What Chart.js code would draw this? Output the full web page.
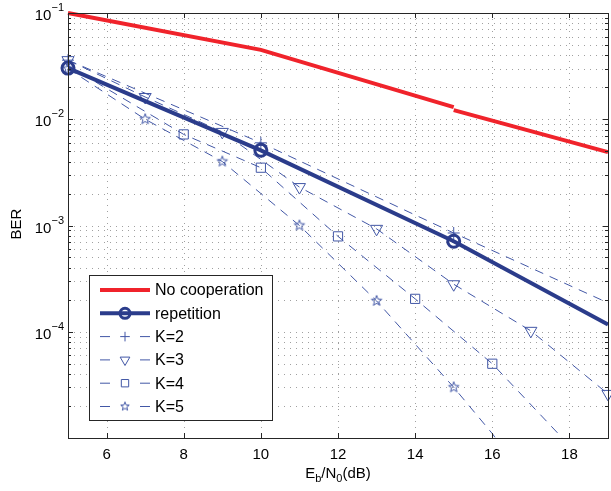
<!DOCTYPE html>
<html>
<head>
<meta charset="utf-8">
<script src="https://cdn.jsdelivr.net/npm/chart.js@4"></script>
<style>
  html, body { margin: 0; padding: 0; background: #fff; }
  #wrap { width: 611px; height: 491px; }
</style>
</head>
<body>
<div id="wrap"><canvas id="berChart"></canvas></div>
<script>
// data
const seriesNames = ["No cooperation", "repetition", "K=2", "K=3", "K=4", "K=5"];
const noCoopX = [5, 10, 15, 15, 15, 19];
const noCoopY = [0.1, 0.045, 0.013, null, 0.0122, 0.0049];
const repX = [5, 10, 15, 19];
const repY = [0.0303, 0.0051, 0.00071, 0.000117];
const repMarks = [1, 1, 1, 0];
const k2X = [5, 10, 15, 19];
const k2Y = [0.036, 0.006, 0.00085, 0.000187];
const k2Marks = [1, 1, 1, 0];
const k3X = [5, 7, 9, 11, 13, 15, 17, 19];
const k3Y = [0.036, 0.0162, 0.0076, 0.0023, 0.00093, 0.00028, 0.000102, 0.000026];
const k3Marks = [1, 1, 1, 1, 1, 1, 1, 1];
const k4X = [5, 8, 10, 12, 14, 16, 18];
const k4Y = [0.032, 0.0072, 0.0035, 0.00079, 0.000204, 0.00005, 0.0000085];
const k4Marks = [0, 1, 1, 1, 1, 1, 0];
const k5X = [5, 7, 9, 11, 13, 15, 16, 17];
const k5Y = [0.03, 0.01, 0.004, 0.001, 0.000195, 0.00003, 0.000011, 0.0000035];
const k5Marks = [1, 1, 1, 1, 1, 1, 0, 0];
const xTicks = [6, 8, 10, 12, 14, 16, 18];
const yDecades = [-5, -4, -3, -2, -1];
const yLabelExps = [-1, -2, -3, -4];

const RED = "#f0232b";
const BLUE = "#2b3c8b";
const DASH = "#4257a6";
const FONT = "'Liberation Sans', Arial, sans-serif";

function pts(xs, ys) {
    return xs.map((x, i) => ({ x: x, y: ys[i] }));
}

// pentagram marker like matlab 'p'
function starCanvas(r, color) {
    let c = document.createElement("canvas");
    let s = Math.ceil(r * 2 + 3);
    c.width = s;
    c.height = s;
    let g = c.getContext("2d");
    g.strokeStyle = color;
    g.lineWidth = 1;
    g.beginPath();
    for (let i = 0; i < 10; i++) {
        let a = -Math.PI / 2 + i * Math.PI / 5;
        let rr = i % 2 ? r * 0.42 : r;
        g.lineTo(s / 2 + rr * Math.cos(a), s / 2 + rr * Math.sin(a));
    }
    g.closePath();
    g.stroke();
    return c;
}
const starImg = starCanvas(5.5, DASH);
const starSmall = starCanvas(4.5, DASH);

function dashedSet(label, xs, ys, marks, style, radius, rotation) {
    return {
        label: label,
        data: pts(xs, ys),
        borderColor: DASH,
        backgroundColor: "rgba(0,0,0,0)",
        borderWidth: 1,
        borderDash: [9, 7],
        pointStyle: style,
        pointRotation: rotation || 0,
        pointRadius: marks.map(m => m ? radius : 0),
        pointBorderWidth: 1,
        clip: { left: 12, right: 12, top: 12, bottom: 0 }
    };
}

const datasets = [
    {
        label: seriesNames[0],
        data: pts(noCoopX, noCoopY),
        borderColor: RED,
        borderWidth: 4,
        pointRadius: 0,
        spanGaps: false,
        clip: { left: 12, right: 12, top: 12, bottom: 0 }
    },
    {
        label: seriesNames[1],
        data: pts(repX, repY),
        borderColor: BLUE,
        backgroundColor: "rgba(0,0,0,0)",
        borderWidth: 4,
        pointStyle: "circle",
        pointRadius: repMarks.map(m => m ? 6 : 0),
        pointBorderWidth: 3,
        clip: { left: 12, right: 12, top: 12, bottom: 0 }
    },
    dashedSet(seriesNames[2], k2X, k2Y, k2Marks, "cross", 6),
    dashedSet(seriesNames[3], k3X, k3Y, k3Marks, "triangle", 7, 180),
    dashedSet(seriesNames[4], k4X, k4Y, k4Marks, "rect", 6.5),
    dashedSet(seriesNames[5], k5X, k5Y, k5Marks, starImg, 6)
];

function crisp(v) {
    return Math.round(v) + 0.5;
}

// text with sub/superscripts
function drawParts(ctx, parts, x, y, align) {
    let w = 0;
    parts.forEach(p => {
        ctx.font = (p.small ? "11px " : "15px ") + FONT;
        p.w = ctx.measureText(p.t).width;
        w += p.w;
    });
    let cx = align === "right" ? x - w : align === "center" ? x - w / 2 : x;
    ctx.textAlign = "left";
    ctx.textBaseline = "alphabetic";
    parts.forEach(p => {
        ctx.font = (p.small ? "11px " : "15px ") + FONT;
        ctx.fillText(p.t, cx, y + (p.dy || 0));
        cx += p.w;
    });
}

const matlabAxes = {
    id: "matlabAxes",
    beforeDatasetsDraw(chart) {
        let ctx = chart.ctx;
        let a = chart.chartArea;
        let xs = chart.scales.x;
        let ys = chart.scales.y;
        ctx.save();
        ctx.strokeStyle = "#a0a0a0";
        ctx.lineWidth = 1;
        ctx.setLineDash([1, 5]);
        xTicks.forEach(v => {
            let px = crisp(xs.getPixelForValue(v));
            ctx.beginPath();
            ctx.moveTo(px, a.top);
            ctx.lineTo(px, a.bottom);
            ctx.stroke();
        });
        yDecades.forEach(d => {
            for (let m = 1; m <= 9; m++) {
                let v = m * Math.pow(10, d);
                if (v > 0.1 * 1.0001) continue;
                let py = crisp(ys.getPixelForValue(v));
                ctx.beginPath();
                ctx.moveTo(a.left, py);
                ctx.lineTo(a.right, py);
                ctx.stroke();
            }
        });
        ctx.restore();
    },
    afterDraw(chart) {
        let ctx = chart.ctx;
        let a = chart.chartArea;
        let xs = chart.scales.x;
        let ys = chart.scales.y;
        ctx.save();
        ctx.strokeStyle = "#262626";
        ctx.lineWidth = 1;
        ctx.setLineDash([]);
        // tick marks, inside the box on all sides
        ctx.beginPath();
        xTicks.forEach(v => {
            let px = crisp(xs.getPixelForValue(v));
            ctx.moveTo(px, a.bottom);
            ctx.lineTo(px, a.bottom - 5);
            ctx.moveTo(px, a.top);
            ctx.lineTo(px, a.top + 5);
        });
        yDecades.forEach(d => {
            for (let m = 1; m <= 9; m++) {
                let v = m * Math.pow(10, d);
                if (v > 0.1 * 1.0001) continue;
                let py = crisp(ys.getPixelForValue(v));
                let len = m === 1 ? 5 : 3;
                ctx.moveTo(a.left, py);
                ctx.lineTo(a.left + len, py);
                ctx.moveTo(a.right, py);
                ctx.lineTo(a.right - len, py);
            }
        });
        ctx.stroke();
        ctx.strokeRect(crisp(a.left), crisp(a.top), Math.round(a.right - a.left), Math.round(a.bottom - a.top));

        // y tick labels 10^-n
        ctx.fillStyle = "#000";
        yLabelExps.forEach(e => {
            let py = ys.getPixelForValue(Math.pow(10, e));
            drawParts(ctx, [{ t: "10" }, { t: "\u2212" + Math.abs(e), small: true, dy: -9 }], 64, py + 7, "right");
        });

        // axis titles
        drawParts(ctx, [
            { t: "E" }, { t: "b", small: true, dy: 4 }, { t: "/N" }, { t: "0", small: true, dy: 4 }, { t: "(dB)" }
        ], (a.left + a.right) / 2, 478, "center");
        ctx.save();
        ctx.translate(21, 224);
        ctx.rotate(-Math.PI / 2);
        ctx.font = "15px " + FONT;
        ctx.textAlign = "center";
        ctx.textBaseline = "alphabetic";
        ctx.fillText("BER", 0, 0);
        ctx.restore();

        // legend box inside the axes
        let lx = 89, ly = 275, lw = 183, lh = 145;
        ctx.fillStyle = "#fff";
        ctx.fillRect(lx, ly, lw, lh);
        ctx.strokeStyle = "#262626";
        ctx.strokeRect(lx + 0.5, ly + 0.5, lw, lh);
        chart.data.datasets.forEach((ds, i) => {
            let ry = ly + 15 + i * 23.3;
            let x1 = lx + 11, x2 = lx + 61;
            ctx.save();
            ctx.strokeStyle = ds.borderColor;
            ctx.lineWidth = ds.borderWidth;
            ctx.setLineDash(ds.borderDash ? [10, 30] : []);
            ctx.beginPath();
            ctx.moveTo(x1, ry);
            ctx.lineTo(x2, ry);
            ctx.stroke();
            ctx.setLineDash([]);
            if (i > 0) {
                ctx.lineWidth = ds.pointBorderWidth;
                ctx.fillStyle = "rgba(0,0,0,0)";
                let r = i === 1 ? 5 : Math.max(...ds.pointRadius) * 0.8;
                Chart.helpers.drawPoint(ctx, {
                    pointStyle: ds.pointStyle === starImg ? starSmall : ds.pointStyle,
                    rotation: ds.pointRotation || 0,
                    radius: r,
                    borderWidth: ds.pointBorderWidth
                }, (x1 + x2) / 2, ry);
            }
            ctx.restore();
            ctx.fillStyle = "#000";
            ctx.font = "16px " + FONT;
            ctx.textAlign = "left";
            ctx.textBaseline = "middle";
            ctx.fillText(ds.label, lx + 66, ry + 1);
        });
        ctx.restore();
    }
};

new Chart(document.getElementById("berChart"), {
    type: "line",
    data: { datasets: datasets },
    options: {
        responsive: true,
        maintainAspectRatio: false,
        animation: false,
        events: [],
        layout: { autoPadding: false, padding: { top: 13, right: 3, left: 0, bottom: 0 } },
        plugins: { legend: { display: false }, tooltip: { enabled: false } },
        scales: {
            x: {
                type: "linear",
                min: 5,
                max: 19,
                grid: { display: false, drawTicks: false },
                border: { display: false },
                afterBuildTicks: (s) => { s.ticks = xTicks.map(v => ({ value: v })); },
                afterFit: (s) => { s.height = 53; s.paddingLeft = 0; s.paddingRight = 0; },
                ticks: {
                    autoSkip: false,
                    maxRotation: 0,
                    padding: 8,
                    color: "#000",
                    font: { family: FONT, size: 15 },
                    callback: (v) => String(v)
                }
            },
            y: {
                type: "logarithmic",
                min: 1e-5,
                max: 1e-1,
                grid: { display: false, drawTicks: false },
                border: { display: false },
                afterBuildTicks: (s) => { s.ticks = yDecades.map(d => ({ value: Math.pow(10, d) })); },
                afterFit: (s) => { s.width = 68; s.paddingTop = 0; s.paddingBottom = 0; },
                ticks: { display: false }
            }
        }
    },
    plugins: [matlabAxes]
});
</script>
</body>
</html>
